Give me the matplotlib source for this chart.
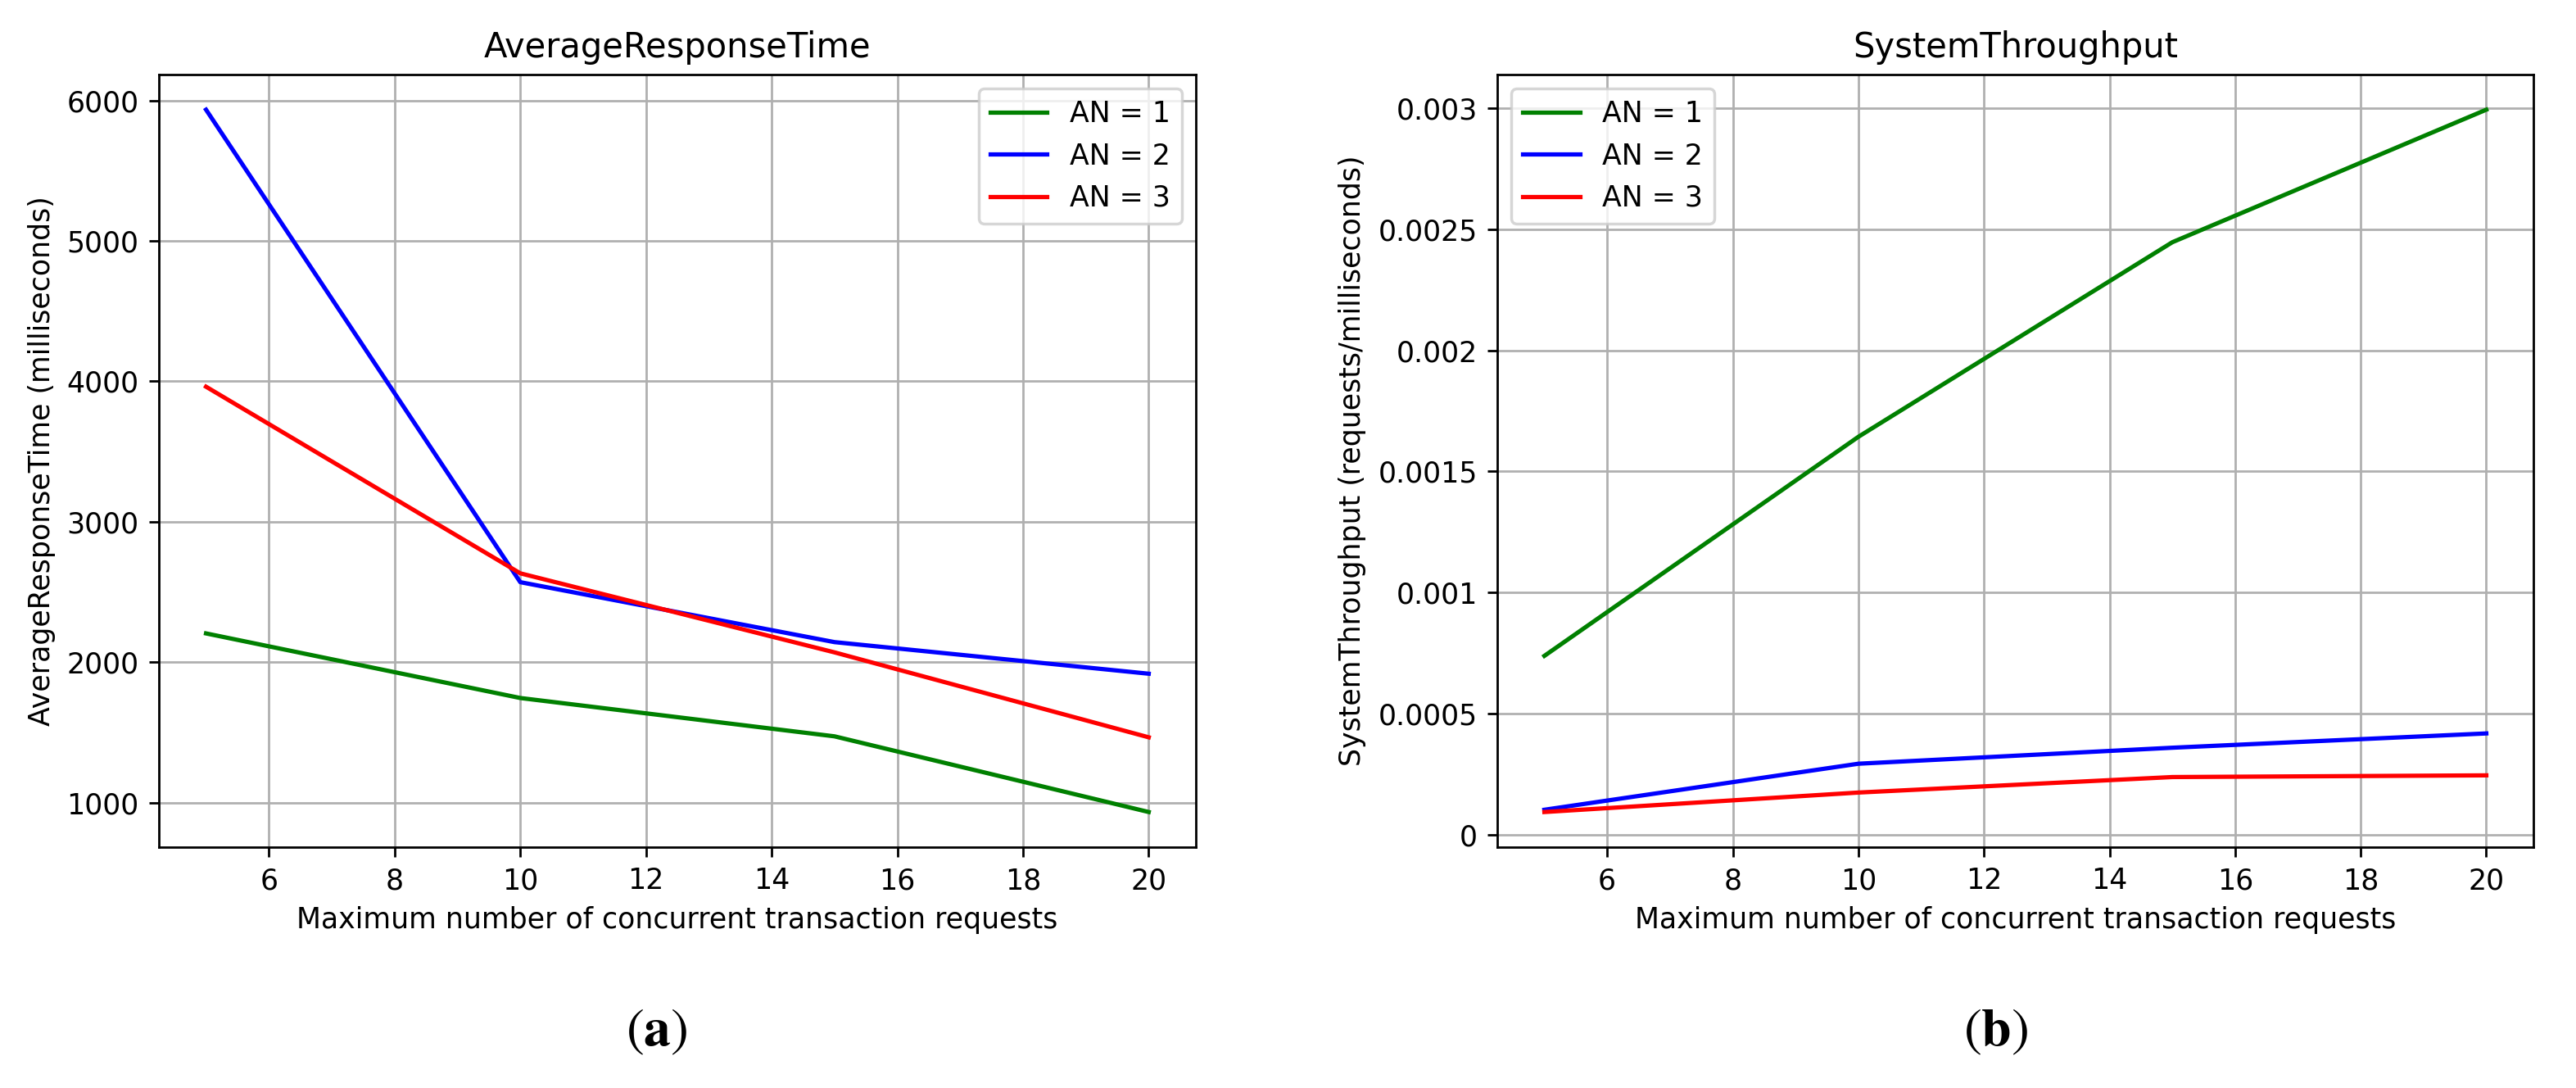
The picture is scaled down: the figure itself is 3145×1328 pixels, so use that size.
import numpy as np
import matplotlib
matplotlib.use("Agg")
import matplotlib.pyplot as plt
from matplotlib.ticker import FuncFormatter

# data
x = [5, 10, 15, 20]
labels = ["AN = 1", "AN = 2", "AN = 3"]
colors = ["green", "blue", "red"]

resp_an1 = [2205, 1745, 1472, 933]
resp_an2 = [5935, 2570, 2143, 1918]
resp_an3 = [3962, 2633, 2070, 1465]

thr_an1 = [0.000739, 0.001643, 0.002446, 0.002993]
thr_an2 = [0.000104, 0.000294, 0.000360, 0.000419]
thr_an3 = [0.0000947, 0.000175, 0.000239, 0.000246]

plt.rcParams['font.size'] = 10
plt.rcParams['mathtext.fontset'] = 'stix'

W, H = 3145, 1328
dpi = 250
fig = plt.figure(figsize=(W / dpi, H / dpi), dpi=dpi)

ax1 = fig.add_axes([194 / W, 1 - 1034 / H, 1266 / W, 943 / H])
ax2 = fig.add_axes([1828 / W, 1 - 1034 / H, 1265 / W, 943 / H])

for ys, lab, col in zip([resp_an1, resp_an2, resp_an3], labels, colors):
    ax1.plot(x, ys, color=col, label=lab)
ax1.set_title("AverageResponseTime")
ax1.set_xlabel("Maximum number of concurrent transaction requests")
ax1.set_ylabel("AverageResponseTime (milliseconds)")
ax1.grid(True)
ax1.legend(loc="upper right")

for ys, lab, col in zip([thr_an1, thr_an2, thr_an3], labels, colors):
    ax2.plot(x, ys, color=col, label=lab)
ax2.set_title("SystemThroughput")
ax2.set_xlabel("Maximum number of concurrent transaction requests")
ax2.set_ylabel("SystemThroughput (requests/milliseconds)")
ax2.yaxis.set_major_formatter(FuncFormatter(lambda v, p: "%g" % round(v, 6)))
ax2.grid(True)
ax2.legend(loc="upper left")

fig.text(802 / W, 1 - 1260 / H, r"($\mathbf{a}$)", fontsize=19,
         family="STIXGeneral", ha="center", va="center")
fig.text(2437 / W, 1 - 1260 / H, r"($\mathbf{b}$)", fontsize=19,
         family="STIXGeneral", ha="center", va="center")

fig.savefig("out.png", dpi=dpi)
